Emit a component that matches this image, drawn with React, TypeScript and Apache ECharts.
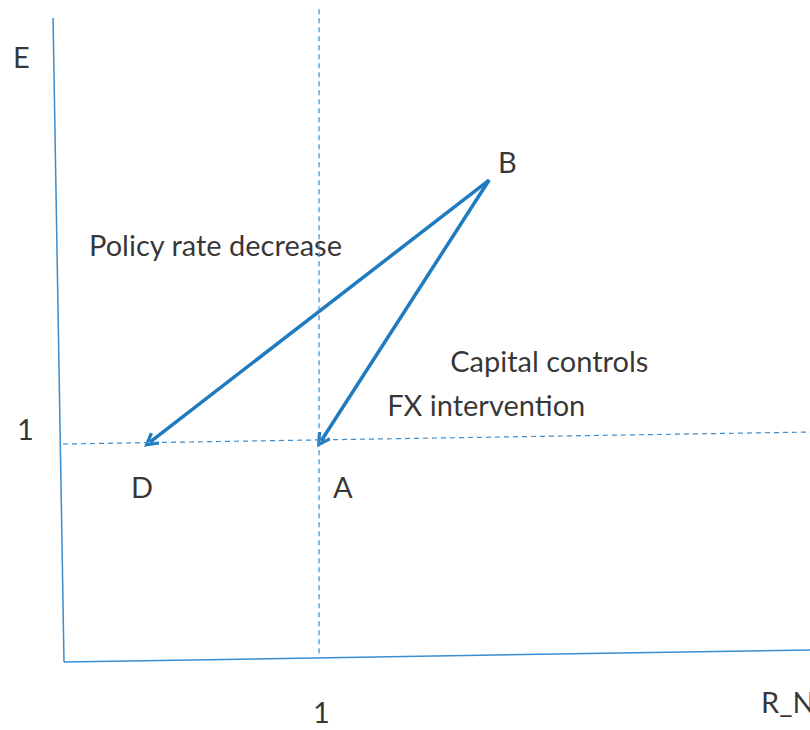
import React, { useEffect, useRef } from "react";
import * as echarts from "echarts";

// Diagram units: R_N on x (1 = reference level), E on y (1 = reference level)
const axisE: number[][] = [[-0.043, 2.954], [0, 0]];
const axisRN: number[][] = [[0, 0], [2.925, 0.055]];
const dashE1: number[][] = [[-0.004, 1.0], [2.925, 1.055]];
const dashRN1: number[][] = [[1.0, 2.995], [1.0, 0.02]];

const pointB: number[] = [1.667, 2.211];
const pointD: number[] = [0.337, 1.009];
const pointA: number[] = [1.008, 1.014];

const labelTexts: string[] = ["E", "1", "D", "A", "B", "Policy rate decrease", "Capital controls", "FX intervention", "1", "R_N"];
const labelPos: number[][] = [
  [-0.2, 2.78],
  [-0.184, 1.069],
  [0.263, 0.807],
  [1.055, 0.804],
  [1.702, 2.294],
  [0.098, 1.917],
  [1.514, 1.385],
  [1.267, 1.179],
  [0.976, -0.229],
  [2.733, -0.179],
];

const X_MIN = -0.251;
const X_MAX = 2.925;
const Y_MIN = -0.312;
const Y_MAX = 3.037;

const thin = "#3a8dcf";
const thick = "#1f7bc0";
const chevron = "path://M5,0 L10,8.5 L8.2,9.6 L5,4 L1.8,9.6 L0,8.5 Z";

export default function App() {
  const ref = useRef<HTMLDivElement>(null);
  useEffect(() => {
    if (!ref.current) return;
    const chart = echarts.init(ref.current, undefined, { renderer: "svg" });
    chart.setOption({
      animation: false,
      backgroundColor: "#ffffff",
      grid: { left: 0, right: 0, top: 0, bottom: 0 },
      xAxis: { type: "value", min: X_MIN, max: X_MAX, show: false },
      yAxis: { type: "value", min: Y_MIN, max: Y_MAX, show: false },
      series: [
        { type: "line", data: axisE, symbol: "none", lineStyle: { color: thin, width: 1.5 } },
        { type: "line", data: axisRN, symbol: "none", lineStyle: { color: thin, width: 1.5 } },
        { type: "line", data: dashE1, symbol: "none", lineStyle: { color: thin, width: 1.2, type: [5, 4] } },
        { type: "line", data: dashRN1, symbol: "none", lineStyle: { color: thin, width: 1.2, type: [5, 4] } },
        {
          type: "lines",
          coordinateSystem: "cartesian2d",
          symbol: ["none", chevron],
          symbolSize: 15,
          lineStyle: { color: thick, width: 3.5, opacity: 1 },
          itemStyle: { color: thick },
          data: [
            { coords: [pointB, pointD] },
            { coords: [pointB, pointA] },
          ],
        },
        {
          type: "scatter",
          symbolSize: 0,
          data: labelPos.map((p, i) => ({ value: p, name: labelTexts[i] })),
          label: {
            show: true,
            position: "right",
            distance: 0,
            formatter: (p: any) => p.name,
            color: "#000",
            fontFamily: "Lato",
            fontSize: 29,
          },
        },
      ],
    });
    return () => chart.dispose();
  }, []);
  return <div ref={ref} style={{ position: "absolute", left: 0, top: 0, width: 810, height: 730 }} />;
}
